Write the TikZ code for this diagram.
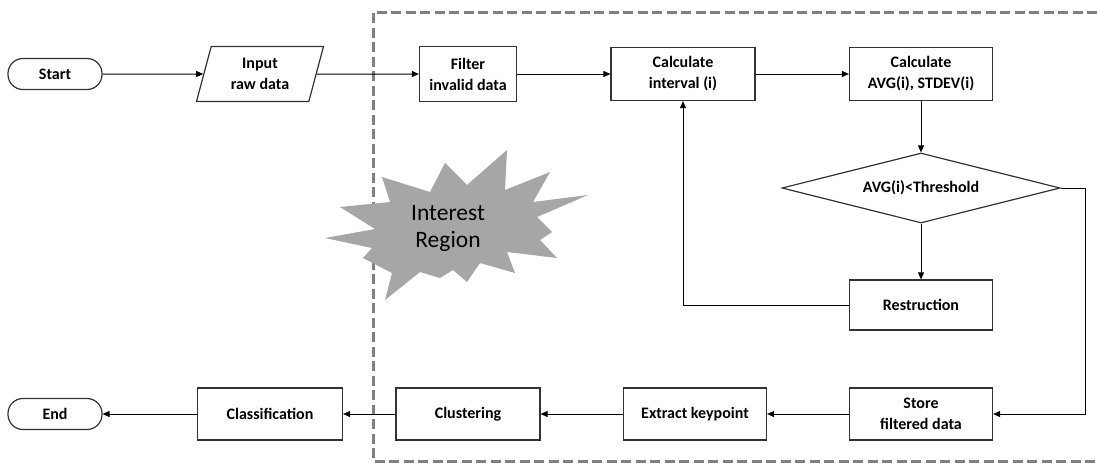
\documentclass[tikz,border=0pt]{standalone}
\usepackage{fontspec}
\setmainfont{Carlito}
\usetikzlibrary{shapes.geometric,arrows.meta}
\begin{document}
\begin{tikzpicture}[x=1pt,y=-1pt,
  base/.style={draw=black!80,line width=1.2pt,align=center,font=\fontsize{16}{21}\selectfont\bfseries,inner sep=0pt},
  proc/.style={base,rectangle,minimum width=143pt,minimum height=52pt},
  term/.style={base,rectangle,rounded corners=15pt,minimum width=94pt,minimum height=31pt},
  io/.style={base,trapezium,trapezium left angle=65,trapezium right angle=115,trapezium stretches body,minimum width=127pt,minimum height=55pt},
  dec/.style={base,diamond,minimum width=278pt,minimum height=70pt,shape aspect=4},
  conn/.style={line width=1pt,-{Triangle[length=7pt,width=6pt]}},
  region/.style={draw=black!50,line width=3pt,dash pattern=on 10pt off 4.5pt}
]
\useasboundingbox (0,0) rectangle (1097,464);
% dashed region
\draw[region] (1097,12) -- (373,12) -- (373,461) -- (1097,461);
% starburst
\fill[black!35] (325,238) -- (375,229) -- (340,207) -- (390,202) -- (382,177) -- (430,192) -- (445,163) -- (467,185) -- (507,150) -- (505,190) -- (550,172) -- (533,202) -- (588,195) -- (537,217) -- (552,232) -- (540,240) -- (557,258) -- (507,252) -- (515,273) -- (480,263) -- (467,282) -- (453,270) -- (440,278) -- (420,272) -- (385,300) -- (392,273) -- (363,258) -- (372,248) -- cycle;
\node[font=\fontsize{23.5}{27}\selectfont,align=center] (ir) at (448,228) {Interest\\Region};
% nodes
\node[term] (start) at (55,74) {Start};
\node[io] (input) at (260,74) {Input\\raw data};
\node[proc,minimum width=97pt,minimum height=55pt] (filter) at (468,74) {Filter\\invalid data};
\node[proc,minimum width=144pt,minimum height=53pt] (calci) at (683,74) {Calculate\\interval (i)};
\node[proc,minimum width=143pt,minimum height=53pt] (calcavg) at (921,74) {Calculate\\AVG(i), STDEV(i)};
\node[dec] (dec) at (921,188) {AVG(i)<Threshold};
\node[proc,minimum height=50pt] (restr) at (921,305) {Restruction};
\node[proc] (store) at (921,414) {Store\\filtered data};
\node[proc] (extract) at (695,414) {Extract keypoint};
\node[proc,minimum width=144pt] (cluster) at (468,414) {Clustering};
\node[proc,minimum width=145pt] (classif) at (270,414) {Classification};
\node[term] (end) at (55,414) {End};
\coordinate (c1) at (1085,188);
\coordinate (c2) at (1085,414);
\coordinate (c3) at (683,305);
% connectors
\draw[conn] (start) -- (input);
\draw[conn] (input) -- (filter);
\draw[conn] (filter) -- (calci);
\draw[conn] (calci) -- (calcavg);
\draw[conn] (calcavg) -- (dec);
\draw[conn] (dec) -- (restr);
\draw[conn] (restr.west) -- (c3) -- (calci.south);
\draw[conn] (dec.east) -- (c1) -- (c2) -- (store.east);
\draw[conn] (store) -- (extract);
\draw[conn] (extract) -- (cluster);
\draw[conn] (cluster) -- (classif);
\draw[conn] (classif) -- (end);
\end{tikzpicture}
\end{document}
